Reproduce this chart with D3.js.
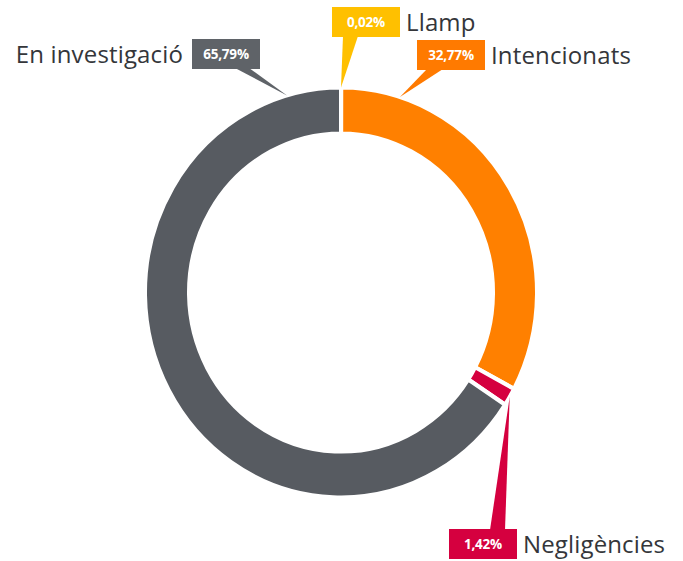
<!DOCTYPE html>
<html>
<head>
<meta charset="utf-8">
<script src="https://cdn.jsdelivr.net/npm/d3@7"></script>
<style>
  body { margin: 0; background: #fff; }
  svg { display: block; }
</style>
</head>
<body>
<div id="chart"></div>
<script>
// data
var categories = ["Llamp", "Intencionats", "Negligències", "En investigació"];
var values = [0.02, 32.77, 1.42, 65.79];
var valueLabels = ["0,02%", "32,77%", "1,42%", "65,79%"];
var colors = ["#ffc000", "#ff8000", "#d5003f", "#575b61"];
var boxColors = ["#ffc000", "#ff7a00", "#d5003f", "#5f6368"];

// callout layout (box top-left, tip angle in degrees, base of pointer, label side)
var callouts = [
    { box: [332, 7],   tipDeg: 0,    base: [343, 358], side: "right" },
    { box: [417, 40],  tipDeg: 17.5, base: [427, 443], side: "right" },
    { box: [449, 529], tipDeg: null, base: [490, 505], side: "right" },
    { box: [192, 39],  tipDeg: -16,  base: [235, 249], side: "left" }
];

var width = 683, height = 561;
var cx = 341, cy = 292.5;
var outerR = 196, innerR = 152, sy = 1.046;
var boxW = 68, boxH = 30;

var svg = d3.select("#chart").append("svg")
    .attr("width", width)
    .attr("height", height);

var pie = d3.pie().sort(null).value(function(d) { return d; });
var arcs = pie(values);

var arc = d3.arc().innerRadius(innerR).outerRadius(outerR);

var ring = svg.append("g")
    .attr("transform", "translate(" + cx + "," + cy + ") scale(1," + sy + ")");

ring.selectAll("path")
    .data(arcs)
    .enter()
    .append("path")
    .attr("d", arc)
    .attr("fill", function(d, i) { return colors[i]; })
    .attr("stroke", "#fff")
    .attr("stroke-width", 4)
    .attr("stroke-linejoin", "miter");

function tipPoint(i) {
    var a = callouts[i].tipDeg === null
        ? (arcs[i].startAngle + arcs[i].endAngle) / 2
        : callouts[i].tipDeg * Math.PI / 180;
    return [cx + outerR * Math.sin(a), cy - outerR * sy * Math.cos(a)];
}

var labels = svg.append("g");

categories.forEach(function(name, i) {
    var c = callouts[i];
    var tip = tipPoint(i);
    var bx = c.box[0], by = c.box[1];
    // pointer leaves from the edge facing the ring
    var baseY = tip[1] > by ? by + boxH - 1 : by + 1;

    labels.append("path")
        .attr("d", "M" + c.base[0] + "," + baseY + "L" + c.base[1] + "," + baseY + "L" + tip[0] + "," + tip[1] + "Z")
        .attr("fill", boxColors[i]);

    labels.append("rect")
        .attr("x", bx)
        .attr("y", by)
        .attr("width", boxW)
        .attr("height", boxH)
        .attr("fill", boxColors[i]);

    labels.append("text")
        .attr("x", bx + boxW / 2)
        .attr("y", by + boxH / 2 + 5)
        .attr("text-anchor", "middle")
        .attr("font-family", "'Open Sans', sans-serif")
        .attr("font-weight", "bold")
        .attr("font-size", "13.5px")
        .attr("letter-spacing", "-0.2px")
        .attr("fill", "#fff")
        .text(valueLabels[i]);

    labels.append("text")
        .attr("x", c.side === "left" ? bx - 9 : bx + boxW + 6)
        .attr("y", by + 24)
        .attr("text-anchor", c.side === "left" ? "end" : "start")
        .attr("font-family", "'Open Sans', sans-serif")
        .attr("font-size", "24px")
        .attr("letter-spacing", "0.15px")
        .attr("fill", "#34363a")
        .text(name);
});
</script>
</body>
</html>
